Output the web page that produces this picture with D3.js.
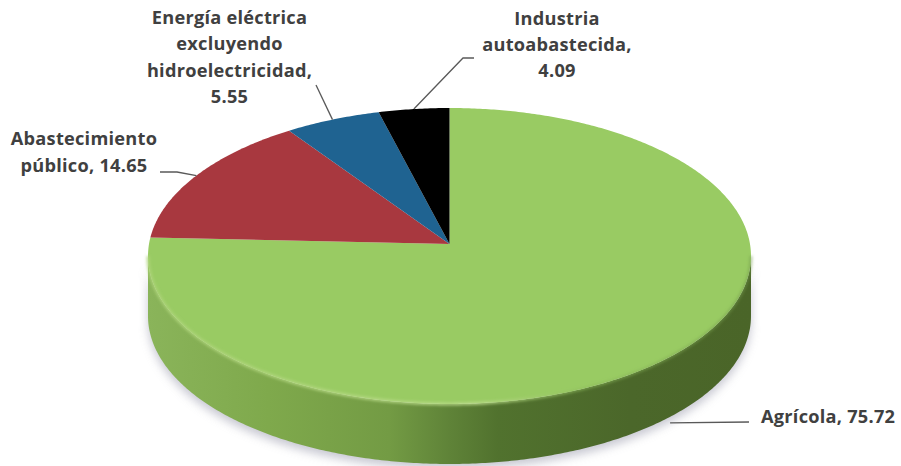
<!DOCTYPE html>
<html lang="es">
<head>
<meta charset="utf-8">
<style>
  html, body { margin: 0; padding: 0; background: #fff; }
  svg { display: block; }
  text { font-family: "Open Sans", Lato, sans-serif; font-weight: 700; font-size: 18.2px; letter-spacing: 0.25px; fill: #404040; }
</style>
</head>
<body>
<svg id="chart" width="901" height="466"></svg>
<script src="https://cdnjs.cloudflare.com/ajax/libs/d3/7.8.5/d3.min.js"></script>
<script>
// Water use by sector, percent of total
const sectors = ["Agrícola", "Abastecimiento público", "Energía eléctrica excluyendo hidroelectricidad", "Industria autoabastecida"];
const shares = [75.72, 14.65, 5.55, 4.09];
const sliceColors = ["#99cb63", "#a8383f", "#1f6391", "#000000"];
const labelLines = [
  ["Agrícola, 75.72"],
  ["Abastecimiento", "público, 14.65"],
  ["Energía eléctrica", "excluyendo", "hidroelectricidad,", "5.55"],
  ["Industria", "autoabastecida,", "4.09"]
];

// Layout of the tilted disc
const apex = { x: 449.5, y: 244 };
const tilt = { rx: 300.5, ry: 147, perspective: 0.081, depth: 60 };

// Placement of each label and the free end of its leader
const labelLayout = [
  { x: 761, y: 423, anchor: "start", lh: 25, leader: [[749, 422]], drop: 66 },
  { x: 84, y: 145, anchor: "middle", lh: 27, leader: [[160, 172], [177, 172]], drop: 0 },
  { x: 229.5, y: 24, anchor: "middle", lh: 26.3, leader: [[316, 85]], drop: 0 },
  { x: 557, y: 25, anchor: "middle", lh: 26, leader: [[474, 58], [463, 58]], drop: 0 }
];

const svg = d3.select("#chart");
const defs = svg.append("defs");

// Projects a pie angle (clockwise from the top) onto the perspective disc
function project(angle, drop = 0) {
  const d = 1 + tilt.perspective * Math.cos(angle);
  return [
    apex.x + tilt.rx * Math.sin(angle) / d,
    apex.y - tilt.ry * Math.cos(angle) / d + drop
  ];
}

function rim(a0, a1, drop = 0) {
  const steps = Math.max(2, Math.ceil(Math.abs(a1 - a0) / 0.01));
  return d3.range(steps + 1).map(i => project(a0 + (a1 - a0) * i / steps, drop));
}

const line = d3.line();
const arcs = d3.pie().sort(null)(shares);

// Tangent angles where the side wall starts and ends
const tangent = Math.acos(-tilt.perspective);
const frontStart = tangent;
const frontEnd = 2 * Math.PI - tangent;
const wallOutline = rim(frontStart, frontEnd).concat(rim(frontEnd, frontStart, tilt.depth));

// Filters
defs.append("filter").attr("id", "shadowBlur")
  .attr("x", "-10%").attr("y", "-10%").attr("width", "120%").attr("height", "120%")
  .append("feGaussianBlur").attr("stdDeviation", 5);
defs.append("filter").attr("id", "bevelBlur")
  .attr("x", "-5%").attr("y", "-5%").attr("width", "110%").attr("height", "110%")
  .append("feGaussianBlur").attr("stdDeviation", 1.4);

// Side wall shading, light on the left and dark on the right
const wallGrad = defs.append("linearGradient").attr("id", "wallShade")
  .attr("gradientUnits", "userSpaceOnUse")
  .attr("x1", 148).attr("x2", 751).attr("y1", 0).attr("y2", 0);
[[0, "#8ab45a"], [0.2, "#7fa94c"], [0.4, "#739b44"], [0.5, "#5f8338"], [0.58, "#51722e"], [0.8, "#4b672a"], [1, "#4a6528"]]
  .forEach(([o, c]) => wallGrad.append("stop").attr("offset", o).attr("stop-color", c));

// Highlight along the front edge of the top face, fading out to the right
const bevelGrad = defs.append("linearGradient").attr("id", "bevelShade")
  .attr("gradientUnits", "userSpaceOnUse")
  .attr("x1", 148).attr("x2", 751).attr("y1", 0).attr("y2", 0);
[[0, "#aed47a", 1], [0.55, "#bcdc8c", 1], [0.72, "#8fbd5c", 0.7], [1, "#72994a", 0.6]]
  .forEach(([o, c, a]) => bevelGrad.append("stop").attr("offset", o).attr("stop-color", c).attr("stop-opacity", a));

// Soft shadow under the disc
svg.append("path")
  .attr("d", line(wallOutline) + "Z")
  .attr("transform", "translate(0,5)")
  .attr("fill", "#b9bac6")
  .attr("opacity", 0.8)
  .attr("filter", "url(#shadowBlur)");

// Side wall
svg.append("path")
  .attr("d", line(wallOutline) + "Z")
  .attr("fill", "url(#wallShade)");

// Top face slices
svg.append("g").selectAll("path").data(arcs).join("path")
  .attr("d", d => line([[apex.x, apex.y], ...rim(d.startAngle, d.endAngle)]) + "Z")
  .attr("fill", (d, i) => sliceColors[i]);

// Rim highlight
svg.append("path")
  .attr("d", line(rim(frontStart, frontEnd)))
  .attr("fill", "none")
  .attr("stroke", "url(#bevelShade)")
  .attr("stroke-width", 2.6)
  .attr("filter", "url(#bevelBlur)");

// Leader lines run from the middle of each slice's rim to its label
const mids = arcs.map(d => (d.startAngle + d.endAngle) / 2);
svg.append("g").selectAll("path").data(labelLayout).join("path")
  .attr("d", (d, i) => line([...d.leader, project(mids[i], d.drop)]))
  .attr("fill", "none")
  .attr("stroke", "#595959")
  .attr("stroke-width", 1.3);

// Labels
const labels = svg.append("g").selectAll("text").data(labelLayout).join("text")
  .attr("x", d => d.x)
  .attr("y", d => d.y)
  .attr("text-anchor", d => d.anchor);
labels.selectAll("tspan").data((d, i) => labelLines[i].map(t => ({ t, d }))).join("tspan")
  .attr("x", v => v.d.x)
  .attr("dy", (v, j) => j ? v.d.lh : 0)
  .text(v => v.t);
</script>
</body>
</html>
